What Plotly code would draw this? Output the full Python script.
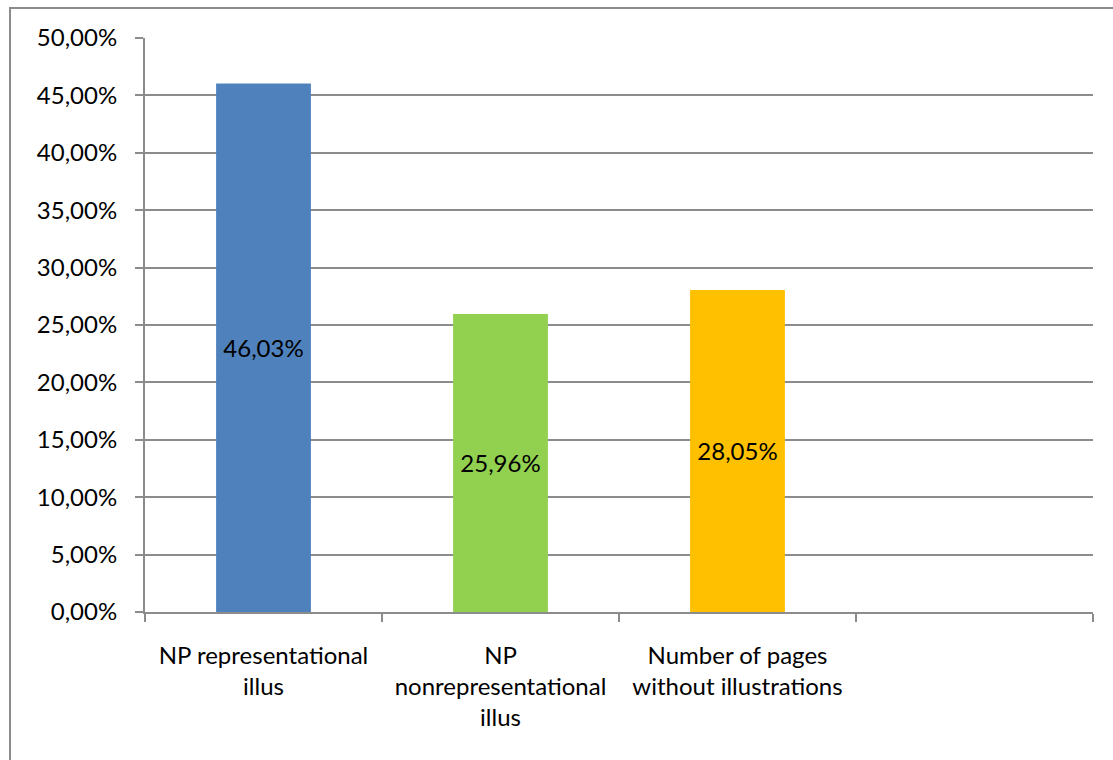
import plotly.graph_objects as go

# Share of pages by illustration type
categories = ["NP representational<br>illus",
              "NP<br>nonrepresentational<br>illus",
              "Number of pages<br>without illustrations"]
shares = [0.4603, 0.2596, 0.2805]
bar_colors = ["#4F81BD", "#92D050", "#FFC000"]
y_ticks = [0, 0.05, 0.10, 0.15, 0.20, 0.25, 0.30, 0.35, 0.40, 0.45, 0.50]

FONT = "Lato, 'Open Sans', sans-serif"
FONT_SIZE = 24
GRID = "#8c8c8c"

positions = list(range(len(categories)))
n_slots = len(categories) + 1  # one empty slot on the right

fig = go.Figure()
fig.add_trace(go.Bar(
    x=positions,
    y=shares,
    width=0.4,
    marker=dict(color=bar_colors, line=dict(width=0)),
    texttemplate="%{y:.2%}",
    textposition="inside",
    insidetextanchor="middle",
    textfont=dict(family=FONT, size=FONT_SIZE, color="black"),
    hoverinfo="skip",
))

# invisible trace to host the boundary tick marks on an overlaying axis
fig.add_trace(go.Scatter(x=[-0.5], y=[0], xaxis="x2", mode="markers",
                         marker=dict(opacity=0), hoverinfo="skip"))

fig.update_layout(
    width=1113, height=760,
    margin=dict(l=145, r=20, t=38, b=148),
    paper_bgcolor="white",
    plot_bgcolor="white",
    showlegend=False,
    separators=",.",
    font=dict(family=FONT, size=FONT_SIZE, color="black"),
    xaxis=dict(
        range=[-0.5, n_slots - 0.5],
        tickvals=positions,
        ticktext=categories,
        ticks="",
        showgrid=False,
        zeroline=False,
        showline=False,
        tickfont=dict(family=FONT, size=FONT_SIZE, color="black"),
        ticklabelstandoff=27,
    ),
    xaxis2=dict(
        overlaying="x",
        side="bottom",
        range=[-0.5, n_slots - 0.5],
        tickvals=[i - 0.5 for i in range(n_slots + 1)],
        ticktext=[""] * (n_slots + 1),
        ticks="outside",
        ticklen=8,
        tickwidth=2,
        tickcolor=GRID,
        showgrid=False,
        zeroline=False,
        showline=True,
        linecolor=GRID,
        linewidth=2,
    ),
    yaxis=dict(
        range=[0, 0.5],
        tickvals=y_ticks,
        tickformat=".2%",
        ticks="outside",
        ticklen=8,
        tickwidth=2,
        tickcolor=GRID,
        showgrid=True,
        gridcolor=GRID,
        gridwidth=1.5,
        zeroline=False,
        showline=True,
        linecolor=GRID,
        linewidth=2,
        tickfont=dict(family=FONT, size=FONT_SIZE, color="black"),
        ticklabelstandoff=13,
    ),
    shapes=[dict(
        type="rect", xref="paper", yref="paper",
        x0=(10 - 145) / 948, x1=(1125 - 145) / 948,
        y0=(612 - 790) / 574, y1=(612 - 8) / 574,
        line=dict(color="#8c8c8c", width=2),
        fillcolor="rgba(0,0,0,0)",
        layer="below",
    )],
)

fig.write_html("out.html")
